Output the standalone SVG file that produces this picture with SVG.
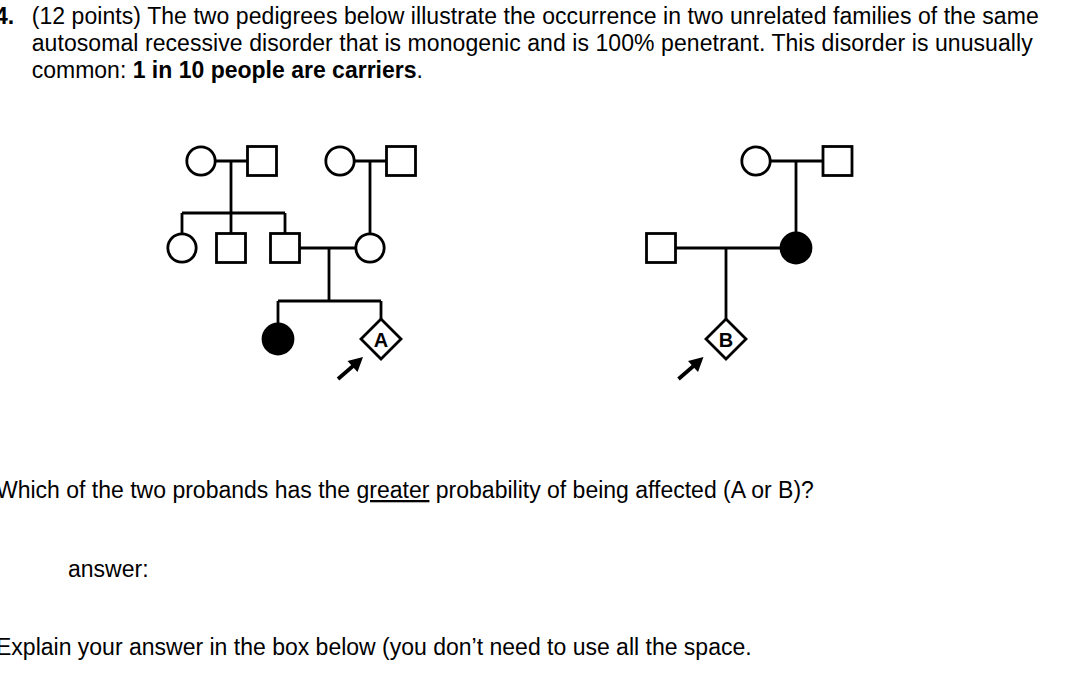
<svg xmlns="http://www.w3.org/2000/svg" width="1072" height="686" viewBox="0 0 1072 686">
<style>
text{font-family:"Liberation Sans",Arial,sans-serif;font-size:23px;fill:#000}
.b{font-weight:bold}
.sh{fill:#fff;stroke:#000;stroke-width:2.8}
.aff{fill:#000;stroke:#000;stroke-width:2.8}
.ln{stroke:#000;stroke-width:2.8;fill:none}
.lbl{font-size:20px;font-weight:bold;text-anchor:middle}
.arr{stroke:#000;stroke-width:3.8}
</style>
<defs>
<g id="arrow"><line class="arr" x1="338" y1="379" x2="353" y2="366"/><path d="M363,357 L357.5,372 L347.5,361 Z" fill="#000"/></g>
</defs>
<g id="question">
<text x="-5" y="24" class="b">4.</text>
<text x="31.7" y="24" textLength="1007" lengthAdjust="spacing">(12 points) The two pedigrees below illustrate the occurrence in two unrelated families of the same</text>
<text x="31.7" y="51" textLength="1001" lengthAdjust="spacing">autosomal recessive disorder that is monogenic and is 100% penetrant. This disorder is unusually</text>
<text x="31.7" y="78">common: <tspan class="b">1 in 10 people are carriers</tspan>.</text>
<text x="-4" y="498">Which of the two probands has the <tspan text-decoration="underline">greater</tspan> probability of being affected (A or B)?</text>
<text x="68" y="577">answer:</text>
<text x="-4" y="655">Explain your answer in the box below (you don’t need to use all the space.</text>
</g>
<g id="connectors">
<path class="ln" d="M215,161H247 M231,161V213 M182,213H285 M182,213V233 M231,213V233 M285,213V233"/>
<path class="ln" d="M354,161H386 M370,161V233"/>
<path class="ln" d="M300,248H355 M329,248V301 M278,301H381 M278,301V323 M381,301V319.5"/>
<path class="ln" d="M770,161H822 M796,161V233"/>
<path class="ln" d="M676,248H781 M726,248V319.5"/>
<use href="#arrow"/>
<use href="#arrow" x="340.5"/>
</g>
<g id="A-I1"><circle class="sh" cx="201" cy="161" r="14.2"/></g>
<g id="A-I2"><rect class="sh" x="247.5" y="146.5" width="29" height="29"/></g>
<g id="A-I3"><circle class="sh" cx="340" cy="161" r="14.2"/></g>
<g id="A-I4"><rect class="sh" x="386.5" y="146.5" width="29" height="29"/></g>
<g id="A-II1"><circle class="sh" cx="182" cy="248" r="14.2"/></g>
<g id="A-II2"><rect class="sh" x="216.5" y="233.5" width="29" height="29"/></g>
<g id="A-II3"><rect class="sh" x="270.5" y="233.5" width="29" height="29"/></g>
<g id="A-II4"><circle class="sh" cx="370" cy="248" r="14.2"/></g>
<g id="A-III1"><circle class="aff" cx="278" cy="339" r="15"/></g>
<g id="A-III2"><path class="sh" d="M381,319 L401,339 L381,359 L361,339 Z"/><text class="lbl" x="381" y="346.5">A</text></g>
<g id="B-I1"><circle class="sh" cx="756" cy="161" r="14.2"/></g>
<g id="B-I2"><rect class="sh" x="823" y="146.5" width="29" height="29"/></g>
<g id="B-II1"><rect class="sh" x="646.5" y="233.5" width="29" height="29"/></g>
<g id="B-II2"><circle class="aff" cx="796" cy="248" r="15"/></g>
<g id="B-III1"><path class="sh" d="M726,319 L746,339 L726,359 L706,339 Z"/><text class="lbl" x="726" y="346.5">B</text></g>
</svg>
